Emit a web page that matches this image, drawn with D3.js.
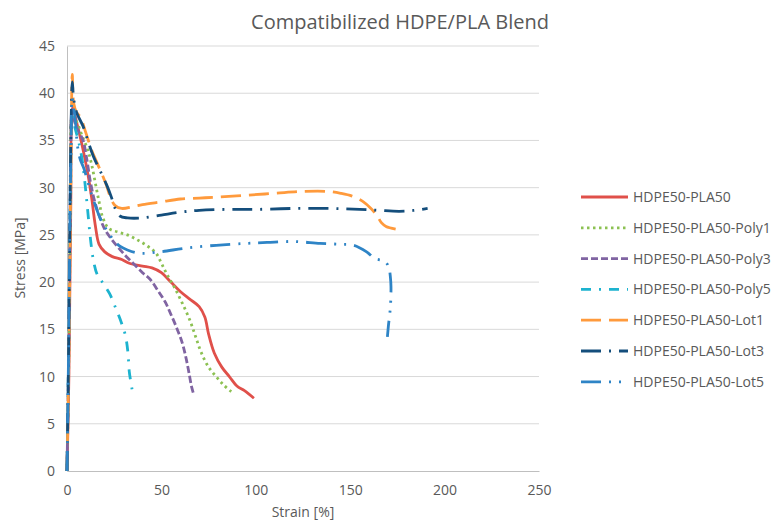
<!DOCTYPE html>
<html>
<head>
<meta charset="utf-8">
<title>Compatibilized HDPE/PLA Blend</title>
<script src="https://d3js.org/d3.v7.min.js"></script>
<style>
  body { margin: 0; background: #fff; }
  text { font-family: "Segoe UI", "Open Sans", "Noto Sans", sans-serif; fill: #595959; }
</style>
</head>
<body>
<svg width="775" height="520"></svg>
<script>
// strain [%] / stress [MPa] pairs
var pla50 = [[0,0],[1,10],[2,28],[3,38.5],[5,37],[8,34.5],[11,31.5],[13,29],[15,26],[17,24],[20,23.2],[24,22.7],[29,22.4],[33,22],[40,21.7],[45,21.5],[50,21],[55,20],[60,19],[65,18.2],[70,17.4],[73,16.3],[75,14.5],[78,12.5],[82,11],[86,10],[90,9],[94,8.5],[99,7.7]];
var poly1 = [[0,0],[1,12],[2,30],[3,37.5],[5,37],[8,35.5],[11,34],[13,32.5],[15,30.5],[17,28.5],[19,26.8],[22,25.7],[27,25.3],[32,25],[37,24.5],[42,23.9],[47,23.1],[50,22],[53,20.8],[57,19.4],[61,17.8],[65,16],[68,14.3],[71,12.6],[75,11],[79,10],[83,9.1],[87,8.4]];
var poly3 = [[0,0],[1,14],[2,34],[2.7,38.3],[4,37],[6,36],[8.5,35],[10.5,33],[12.5,30.5],[15,28.3],[17.5,26.8],[20,25.6],[23,24.7],[27,23.7],[31,22.8],[35,22],[40,21],[44,20.3],[48.5,19],[52,17.9],[55,16.6],[58,15.2],[61,13.6],[63,12],[64.5,10.5],[66,8.9],[67,8.2]];
var poly5 = [[0,0],[1,15],[2,33],[2.8,37.5],[4,36.5],[6,35],[8,33],[9.5,30.5],[11,27.5],[12.3,24.8],[14,22.3],[16,20.8],[19,19.9],[22.5,18.8],[25.5,17.4],[29,15.6],[31,14.3],[32.3,12.5],[33,10.5],[34.6,8.5]];
var lot1 = [[0,0],[0.8,10],[1.5,22],[2.2,35],[2.8,42],[3.5,39],[5,38],[7,37.5],[10,35.8],[13,34],[16,32.6],[19,31.2],[21,30.2],[23,29],[25.5,28.1],[29,27.8],[35,28],[40,28.2],[50,28.5],[60,28.8],[70,28.9],[80,29],[95,29.2],[110,29.4],[125,29.6],[138,29.6],[145,29.4],[151,29.1],[157,28.5],[161,27.8],[164,27.1],[166.5,26.3],[169,25.9],[174.6,25.6]];
var lot3 = [[0,0],[0.8,12],[1.5,26],[2.2,37],[2.8,41.2],[3.5,39.5],[5,38],[8.5,36.5],[11,35],[14,33.3],[17.5,31.8],[21,30.3],[23.5,29],[25.5,27.8],[28,27],[32,26.8],[40,26.8],[50,27.1],[60,27.4],[70,27.6],[85,27.7],[100,27.7],[120,27.8],[140,27.8],[155,27.7],[165,27.6],[176,27.5],[184,27.6],[191,27.8]];
var lot5 = [[0,0],[0.8,12],[1.5,25],[2.2,35],[2.7,39.5],[3.5,38.5],[4.5,37],[5.5,34.5],[7,33],[9,32],[11.5,30.3],[14,28.7],[17.5,26.8],[21,25.5],[24.5,24.5],[28,23.8],[32,23.4],[38.7,23.05],[49,23.2],[63,23.6],[79,23.9],[95,24.1],[106,24.2],[120,24.3],[134,24.1],[145,24],[152,23.9],[158.7,23.2],[163,22.5],[168.4,22.2],[170.5,21.5],[171.3,20.5],[171.6,19.5],[171.3,17.4],[170.2,15.3],[169.7,14.2]];

var seriesNames = ["HDPE50-PLA50","HDPE50-PLA50-Poly1","HDPE50-PLA50-Poly3","HDPE50-PLA50-Poly5","HDPE50-PLA50-Lot1","HDPE50-PLA50-Lot3","HDPE50-PLA50-Lot5"];
var seriesData = [pla50, poly1, poly3, poly5, lot1, lot3, lot5];
var colors = ["#e0504a","#8cc152","#8064a2","#1db3cf","#ff9a3c","#144e7c","#2e84c6"];
var dashes = ["none","2.5,3.5","7,3","10,8,2,8","20,8","20,8,2,8","20,8,2,8,2,8"];

var xTicks = [0,50,100,150,200,250];
var yTicks = [0,5,10,15,20,25,30,35,40,45];

var svg = d3.select("svg"),
    margin = {top: 46, right: 236, bottom: 49, left: 67},
    width = 775 - margin.left - margin.right,
    height = 520 - margin.top - margin.bottom,
    g = svg.append("g").attr("transform", `translate(${margin.left},${margin.top})`);

var x = d3.scaleLinear().domain([0,250]).range([0,width]);
var y = d3.scaleLinear().domain([0,45]).range([height,0]);

// gridlines
g.append("g")
  .selectAll("line")
  .data(yTicks.slice(1))
  .enter().append("line")
    .attr("x1",0).attr("x2",width)
    .attr("y1",d=>y(d)).attr("y2",d=>y(d))
    .attr("stroke","#d9d9d9").attr("stroke-width",1);

var yAxis = g.append("g")
  .call(d3.axisLeft(y).tickValues(yTicks).tickSize(0).tickPadding(12));
yAxis.select(".domain").attr("stroke","#bfbfbf");
yAxis.selectAll("text").style("font-size","14px").attr("fill","#595959");

var xAxis = g.append("g")
  .attr("transform","translate(0," + height + ")")
  .call(d3.axisBottom(x).tickValues(xTicks).tickSize(0).tickPadding(14));
xAxis.select(".domain").attr("stroke","#bfbfbf");
xAxis.selectAll("text").style("font-size","14px").attr("fill","#595959");

var line = d3.line()
  .x(d=>x(d[0]))
  .y(d=>y(d[1]))
  .curve(d3.curveCatmullRom.alpha(0.5));

g.append("g")
  .selectAll("path")
  .data(seriesData)
  .enter().append("path")
    .attr("d", line)
    .attr("fill","none")
    .attr("stroke",(d,i)=>colors[i])
    .attr("stroke-width",2.8)
    .attr("stroke-dasharray",(d,i)=>dashes[i]);

// titles
svg.append("text")
  .attr("x",400).attr("y",29)
  .attr("text-anchor","middle")
  .style("font-size","20px")
  .text("Compatibilized HDPE/PLA Blend");

svg.append("text")
  .attr("x",303).attr("y",517)
  .attr("text-anchor","middle")
  .style("font-size","14px")
  .text("Strain [%]");

svg.append("text")
  .attr("transform","translate(25,258) rotate(-90)")
  .attr("text-anchor","middle")
  .style("font-size","14px")
  .text("Stress [MPa]");

// legend
var legend = svg.append("g")
  .selectAll("g")
  .data(seriesNames)
  .enter().append("g")
    .attr("transform",(d,i)=>`translate(581,${197 + i*30.8})`);

legend.append("line")
  .attr("x1",0).attr("x2",47)
  .attr("stroke",(d,i)=>colors[i])
  .attr("stroke-width",2.8)
  .attr("stroke-dasharray",(d,i)=>dashes[i]);

legend.append("text")
  .attr("x",52).attr("y",5)
  .style("font-size","14px")
  .text(d=>d);
</script>
</body>
</html>
